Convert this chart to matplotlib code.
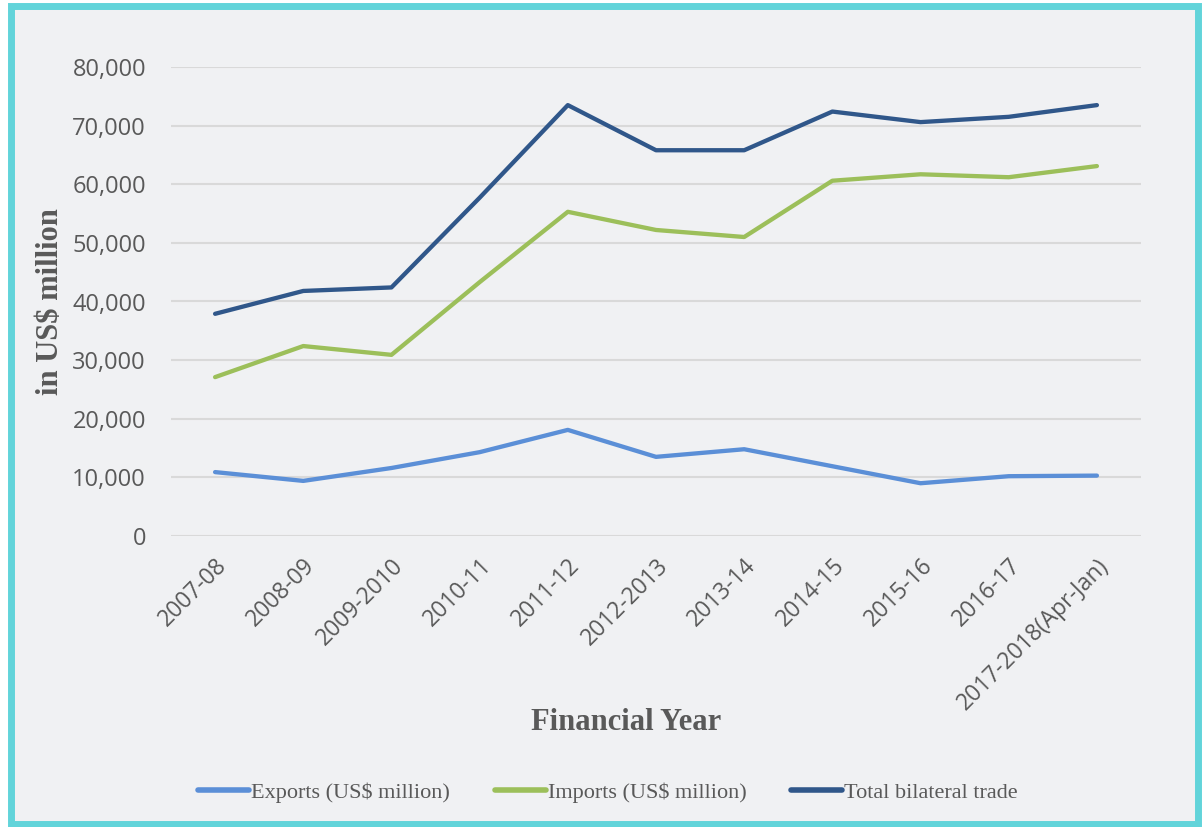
import matplotlib
matplotlib.use("Agg")
import matplotlib.pyplot as plt
from matplotlib.patches import Rectangle
from matplotlib.ticker import FuncFormatter

years = ["2007-08", "2008-09", "2009-2010", "2010-11", "2011-12", "2012-2013",
         "2013-14", "2014-15", "2015-16", "2016-17", "2017-2018(Apr-Jan)"]
exports = [10900, 9400, 11600, 14300, 18100, 13500, 14800, 11900, 9000, 10200, 10300]
imports = [27100, 32400, 30900, 43300, 55300, 52200, 51000, 60600, 61700, 61200, 63100]
total = [37900, 41800, 42400, 57700, 73500, 65800, 65800, 72400, 70600, 71500, 73500]

series = [
    ("Exports (US$ million)", exports, "#5b8fd7"),
    ("Imports (US$ million)", imports, "#9cbf5a"),
    ("Total bilateral trade", total, "#30578a"),
]

bg = "#f0f1f3"
tick_col = "#595959"

fig = plt.figure(figsize=(12.02, 8.27), dpi=100, facecolor="white")

# outer cyan frame, behind everything
fig.patches.append(Rectangle((11 / 1202, 3 / 827), (1198 - 11) / 1202, (821 - 3) / 827,
                             transform=fig.transFigure, facecolor=bg,
                             edgecolor="#62d4da", linewidth=5, zorder=-5))

ax = fig.add_axes([171 / 1202, 1 - 536 / 827, (1141 - 171) / 1202, (536 - 67) / 827])
ax.set_facecolor("none")

xs = range(len(years))
for name, vals, col in series:
    ax.plot(xs, vals, color=col, lw=3.1, solid_capstyle="round",
            solid_joinstyle="round", label=name, zorder=3)

ax.set_xlim(-0.5, len(years) - 0.5)
ax.set_ylim(0, 80000)
ax.set_yticks(range(0, 80001, 10000))
ax.yaxis.set_major_formatter(FuncFormatter(lambda v, _: f"{int(v):,}"))
ax.grid(axis="y", color="#d9d9d9", lw=1.5, zorder=0)
for sp in ax.spines.values():
    sp.set_visible(False)
ax.tick_params(axis="y", length=0, colors=tick_col, labelsize=17, pad=18)
ax.tick_params(axis="x", length=0, colors=tick_col, labelsize=16.5, pad=13)
ax.set_xticks(list(xs))
ax.set_xticklabels(years, rotation=45, ha="right", va="top",
                   rotation_mode="anchor", family="Open Sans")
for lab in ax.get_yticklabels():
    lab.set_family("Open Sans")

ax.set_ylabel("in US$ million", family="Liberation Serif", fontweight="bold",
              fontsize=22, color=tick_col, labelpad=5)
fig.text(626 / 1202, 1 - 722 / 827, "Financial Year", family="Liberation Serif",
         fontweight="bold", fontsize=22, color=tick_col, ha="center", va="center")

leg = fig.legend(loc="center", bbox_to_anchor=(608 / 1202, 1 - 793 / 827), ncol=3,
                 frameon=False, handlelength=2.3, handletextpad=0.1,
                 columnspacing=2.0, prop={"family": "Liberation Serif", "size": 16})
for t in leg.get_texts():
    t.set_color(tick_col)
for h in leg.get_lines():
    h.set_linewidth(4)

fig.savefig("out.png", dpi=100, facecolor="white")
